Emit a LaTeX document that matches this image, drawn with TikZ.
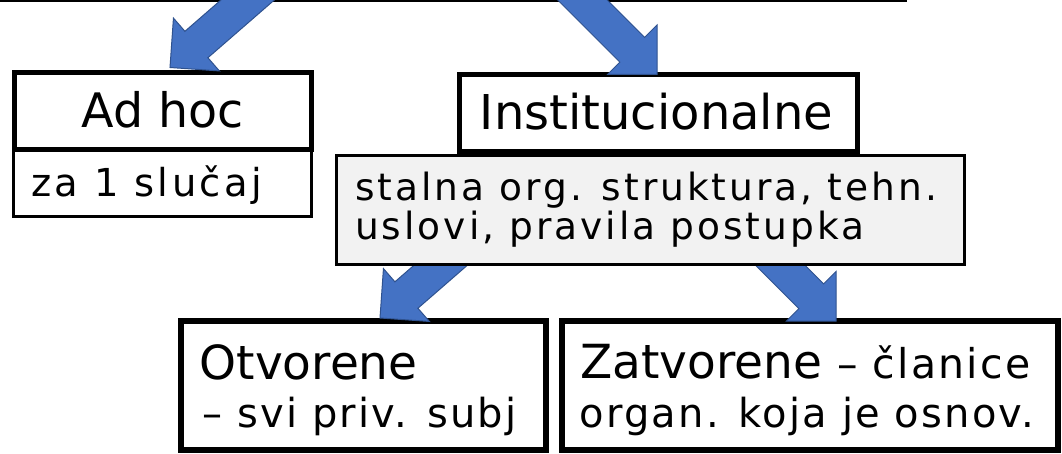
\documentclass[tikz,border=0pt]{standalone}
\usepackage{fontspec}
\setmainfont{DejaVu Sans}
\newfontfamily\widefont[LetterSpace=8]{DejaVu Sans}
\newfontfamily\zafont[LetterSpace=9]{DejaVu Sans}
\newfontfamily\semiwide[LetterSpace=5.5]{DejaVu Sans}
\usetikzlibrary{calc}
\definecolor{arrowblue}{HTML}{4472C4}
\definecolor{arrowedge}{HTML}{2F528F}
\definecolor{graybg}{HTML}{F2F2F2}
\tikzset{
  boxthick/.style={draw=black, line width=5pt, fill=white, rectangle, inner sep=0pt},
  boxthin/.style={draw=black, line width=2.5pt, fill=white, rectangle, inner sep=0pt},
  boxgray/.style={draw=black, line width=3pt, fill=graybg, rectangle, inner sep=0pt},
  txt/.style={inner sep=0pt, anchor=base west, text=black},
  txtc/.style={inner sep=0pt, anchor=base, text=black},
  pics/blockarrow/.style={code={
    \draw[fill=arrowblue, draw=arrowedge, line width=1pt, line join=miter]
      (0,0) -- (-35,35) -- (-35,17.5) -- (-#1,17.5) -- (-#1,-17.5) -- (-35,-17.5) -- (-35,-35) -- cycle;}}
}
\begin{document}
\begin{tikzpicture}[x=1pt,y=-1pt]
\useasboundingbox (0,0) rectangle (1062,454);
\clip (0,0) rectangle (1062,454);
\fill[white] (0,0) rectangle (1062,454);

% top line
\draw[line width=2.5pt] (0,0.75) -- (907,0.75);

% upper boxes
\node[boxthin, minimum width=298pt, minimum height=66.5pt] (za) at (162.5,183.25) {};
\node[boxthick, minimum width=297.5pt, minimum height=77pt] (adhoc) at (162.75,111) {};
\node[boxthick, minimum width=398.5pt, minimum height=77pt] (inst) at (658.25,113) {};

% lower boxes
\node[boxthick, line width=6pt, minimum width=365pt, minimum height=129pt] (otv) at (363.5,385.5) {};
\node[boxthick, line width=6pt, minimum width=496.5pt, minimum height=129pt] (zat) at (809.75,385.5) {};

% arrow tips
\coordinate (tipadhoc) at ($(adhoc.north)+(7.25,-2.5)$);
\coordinate (tipinst) at ($(inst.north)+(-1.25,2.5)$);
\coordinate (tipotv) at ($(otv.north)+(16.5,0)$);
\coordinate (tipzat) at ($(zat.north)+(26.25,3)$);

% lower arrows (behind gray box)
\pic[rotate=221] at (tipotv) {blockarrow=110};
\pic[rotate=-45] at (tipzat) {blockarrow=110};

% gray box
\node[boxgray, minimum width=628pt, minimum height=109pt] (gray) at (650,210) {};

% top arrows
\pic[rotate=221] at (tipadhoc) {blockarrow=160};
\pic[rotate=-45] at (tipinst) {blockarrow=160};

% texts
\node[txtc] (adhoct) at (162.75,128) {\fontsize{47.5}{57}\selectfont Ad hoc};
\node[txt] (zat1) at (31,197) {\zafont\fontsize{38.5}{46}\selectfont za 1 slučaj};
\node[txtc] (instt) at (656.5,130) {\fontsize{48}{57}\selectfont Institucionalne};
\node[txt] (gray1) at (355,200.5) {\widefont\fontsize{37.5}{44}\selectfont stalna org. struktura, tehn.};
\node[txt] (gray2) at (355,240) {\widefont\fontsize{37.5}{44}\selectfont uslovi, pravila postupka};
\node[txt] (otvt1) at (199.5,379) {\fontsize{47}{56}\selectfont Otvorene};
\node[txt] (otvt2) at (202,427) {\semiwide\fontsize{40}{48}\selectfont – svi priv. subj};
\node[txt] (zatt1) at (580,378) {\fontsize{47}{56}\selectfont Zatvorene \semiwide\fontsize{41}{50}\selectfont – članice};
\node[txt] (zatt2) at (579.5,427) {\semiwide\fontsize{40}{48}\selectfont organ. koja je osnov.};
\end{tikzpicture}
\end{document}
